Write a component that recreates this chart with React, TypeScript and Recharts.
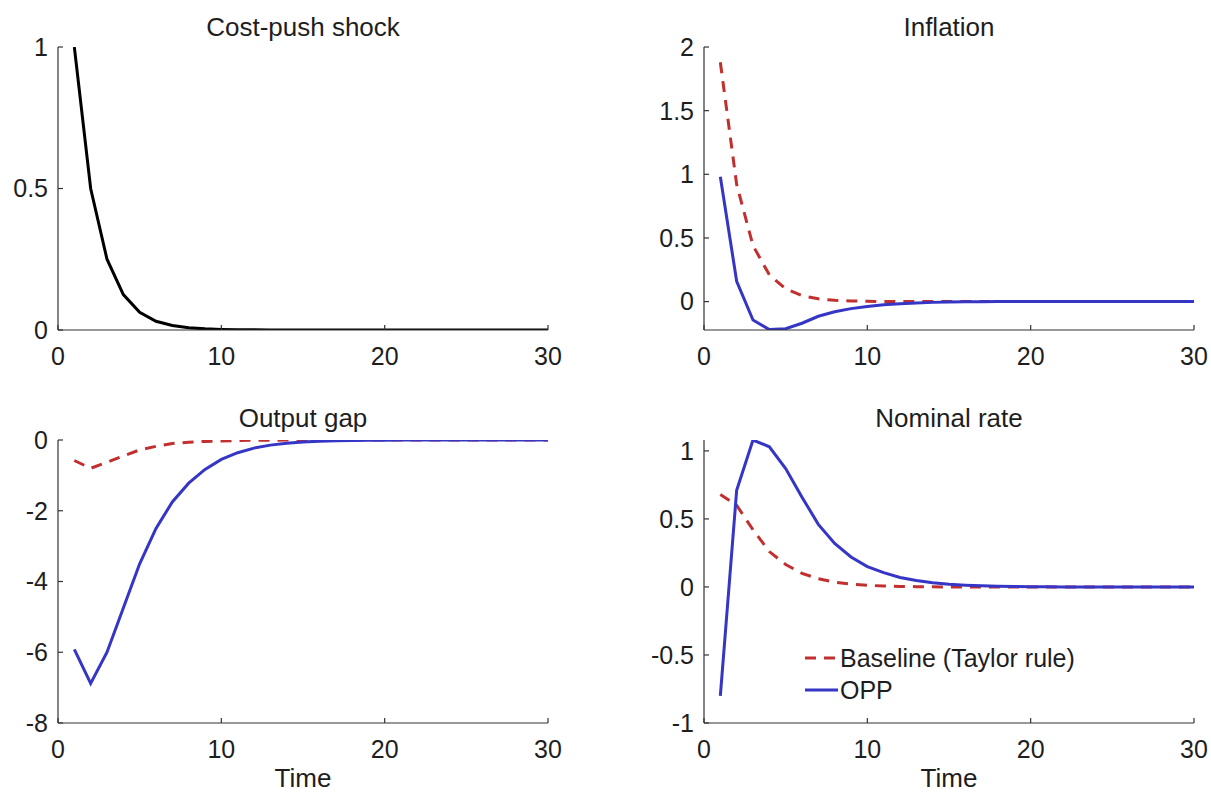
import React from 'react';
import { LineChart, Line, XAxis, YAxis, Legend } from 'recharts';

// Impulse responses to a cost-push shock, t = 1..30
const periods = [
  1, 2, 3, 4, 5, 6, 7, 8, 9, 10, 11, 12, 13, 14, 15,
  16, 17, 18, 19, 20, 21, 22, 23, 24, 25, 26, 27, 28, 29, 30,
];

const costPush = [
  1, 0.5, 0.25, 0.125, 0.0625, 0.031, 0.016, 0.008, 0.004, 0.002, 0.001, 0.0005, 0.0002, 0.0001, 0.0001,
  0, 0, 0, 0, 0, 0, 0, 0, 0, 0, 0, 0, 0, 0, 0,
];

const inflationBaseline = [
  1.88, 0.92, 0.44, 0.21, 0.1, 0.047, 0.022, 0.01, 0.005, 0.002, 0.001, 0.0005, 0, 0, 0,
  0, 0, 0, 0, 0, 0, 0, 0, 0, 0, 0, 0, 0, 0, 0,
];
const inflationOpp = [
  0.98, 0.16, -0.145, -0.22, -0.213, -0.17, -0.115, -0.08, -0.055, -0.038, -0.025, -0.016, -0.01, -0.006, -0.004,
  -0.002, -0.001, 0, 0, 0, 0, 0, 0, 0, 0, 0, 0, 0, 0, 0,
];

const outputBaseline = [
  -0.58, -0.8, -0.63, -0.45, -0.28, -0.18, -0.1, -0.065, -0.04, -0.025, -0.015, -0.009, -0.005, -0.003, -0.002,
  -0.001, 0, 0, 0, 0, 0, 0, 0, 0, 0, 0, 0, 0, 0, 0,
];
const outputOpp = [
  -5.92, -6.88, -6.0, -4.75, -3.5, -2.5, -1.75, -1.22, -0.83, -0.55, -0.36, -0.23, -0.145, -0.09, -0.055,
  -0.034, -0.021, -0.013, -0.008, -0.005, -0.003, -0.002, -0.001, 0, 0, 0, 0, 0, 0, 0,
];

const rateBaseline = [
  0.68, 0.6, 0.42, 0.26, 0.165, 0.1, 0.06, 0.035, 0.02, 0.012, 0.007, 0.004, 0.002, 0.001, 0,
  0, 0, 0, 0, 0, 0, 0, 0, 0, 0, 0, 0, 0, 0, 0,
];
const rateOpp = [
  -0.8, 0.71, 1.08, 1.03, 0.87, 0.66, 0.46, 0.32, 0.22, 0.15, 0.105, 0.07, 0.047, 0.031, 0.02,
  0.013, 0.008, 0.005, 0.003, 0.002, 0.001, 0, 0, 0, 0, 0, 0, 0, 0, 0,
];

const xTicks = [0, 10, 20, 30];
const shockTicks = [0, 0.5, 1];
const inflationTicks = [0, 0.5, 1, 1.5, 2];
const outputTicks = [-8, -6, -4, -2, 0];
const rateTicks = [-1, -0.5, 0, 0.5, 1];

const RED = '#c1302e';
const BLUE = '#3535c6';
const BLACK = '#000000';
const AXIS = '#333333';
const TEXT = '#1e1e1e';
const FONT = '"Liberation Sans", Arial, Helvetica, sans-serif';
const DASH = '11 8';

const legendItems = [
  { name: 'Baseline (Taylor rule)', color: RED, dash: DASH },
  { name: 'OPP', color: BLUE, dash: undefined as string | undefined },
];

function rows(series: Record<string, number[]>) {
  return periods.map((t, i) => {
    const row: Record<string, number> = { t };
    Object.keys(series).forEach((k) => {
      row[k] = series[k][i];
    });
    return row;
  });
}

interface SeriesDef {
  key: string;
  color: string;
  dash?: string;
}

interface PanelProps {
  title: string;
  left: number;
  top: number;
  width: number;
  height: number;
  margin: { top: number; right: number; bottom: number; left: number };
  titleTop: number;
  data: Record<string, number>[];
  domain: [number, number];
  ticks: number[];
  lines: SeriesDef[];
  time?: boolean;
  legend?: boolean;
}

function LegendBox() {
  return (
    <div style={{ fontFamily: FONT, fontSize: 25, color: TEXT }}>
      {legendItems.map((item) => (
        <div key={item.name} style={{ display: 'flex', alignItems: 'center', height: 32, whiteSpace: 'nowrap' }}>
          <svg width={35} height={32} style={{ display: 'block' }}>
            <line x1={0} y1={16} x2={33} y2={16} stroke={item.color} strokeWidth={3} strokeDasharray={item.dash} />
          </svg>
          <span style={{ lineHeight: '32px' }}>{item.name}</span>
        </div>
      ))}
    </div>
  );
}

function Panel(p: PanelProps) {
  const axisW = 50;
  const plotLeft = p.margin.left + axisW;
  const plotW = p.width - plotLeft - p.margin.right;
  const tickStyle = { fontSize: 25, fill: TEXT, fontFamily: FONT };
  return (
    <div style={{ position: 'absolute', left: p.left, top: p.top, width: p.width, height: p.height }}>
      <LineChart width={p.width} height={p.height} data={p.data} margin={p.margin}>
        <XAxis
          dataKey="t"
          type="number"
          domain={[0, 30]}
          ticks={xTicks}
          allowDataOverflow
          height={p.time ? 64 : 40}
          stroke={AXIS}
          strokeWidth={1.2}
          tickSize={-5}
          tickMargin={22}
          tick={tickStyle}
          label={
            p.time
              ? { value: 'Time', position: 'insideBottom', offset: 0, fontSize: 26, fill: TEXT, fontFamily: FONT }
              : undefined
          }
        />
        <YAxis
          type="number"
          domain={p.domain}
          ticks={p.ticks}
          allowDataOverflow
          width={axisW}
          stroke={AXIS}
          strokeWidth={1.2}
          tickSize={-5}
          tickMargin={15}
          tick={tickStyle}
        />
        {p.lines.map((l) => (
          <Line
            key={l.key}
            dataKey={l.key}
            type="linear"
            stroke={l.color}
            strokeWidth={3}
            strokeDasharray={l.dash}
            dot={false}
            activeDot={false}
            isAnimationActive={false}
          />
        ))}
        {p.legend && (
          <Legend
            layout="vertical"
            verticalAlign="middle"
            align="center"
            content={() => <LegendBox />}
            wrapperStyle={{ left: 205, top: 252, width: 'auto' }}
          />
        )}
      </LineChart>
      <div
        style={{
          position: 'absolute',
          left: plotLeft,
          width: plotW,
          top: p.titleTop,
          textAlign: 'center',
          fontFamily: FONT,
          fontSize: 26,
          lineHeight: '30px',
          color: TEXT,
          whiteSpace: 'nowrap',
        }}
      >
        {p.title}
      </div>
    </div>
  );
}

export default function App() {
  const shockData = rows({ shock: costPush });
  const inflationData = rows({ base: inflationBaseline, opp: inflationOpp });
  const outputData = rows({ base: outputBaseline, opp: outputOpp });
  const rateData = rows({ base: rateBaseline, opp: rateOpp });

  return (
    <div style={{ position: 'absolute', left: 0, top: 0, width: 1211, height: 792, background: '#fff', overflow: 'hidden' }}>
      <Panel
        title="Cost-push shock"
        left={0}
        top={0}
        width={600}
        height={390}
        margin={{ top: 47, right: 52, bottom: 20, left: 8 }}
        titleTop={12}
        data={shockData}
        domain={[0, 1]}
        ticks={shockTicks}
        lines={[{ key: 'shock', color: BLACK }]}
      />
      <Panel
        title="Inflation"
        left={600}
        top={0}
        width={611}
        height={390}
        margin={{ top: 47, right: 17, bottom: 20, left: 54 }}
        titleTop={12}
        data={inflationData}
        domain={[-0.223, 2]}
        ticks={inflationTicks}
        lines={[
          { key: 'base', color: RED, dash: DASH },
          { key: 'opp', color: BLUE },
        ]}
      />
      <Panel
        title="Output gap"
        left={0}
        top={390}
        width={600}
        height={402}
        margin={{ top: 50, right: 52, bottom: 5, left: 8 }}
        titleTop={13}
        data={outputData}
        domain={[-8, 0]}
        ticks={outputTicks}
        lines={[
          { key: 'base', color: RED, dash: DASH },
          { key: 'opp', color: BLUE },
        ]}
        time
      />
      <Panel
        title="Nominal rate"
        left={600}
        top={390}
        width={611}
        height={402}
        margin={{ top: 50, right: 17, bottom: 5, left: 54 }}
        titleTop={13}
        data={rateData}
        domain={[-1, 1.08]}
        ticks={rateTicks}
        lines={[
          { key: 'base', color: RED, dash: DASH },
          { key: 'opp', color: BLUE },
        ]}
        time
        legend
      />
    </div>
  );
}
